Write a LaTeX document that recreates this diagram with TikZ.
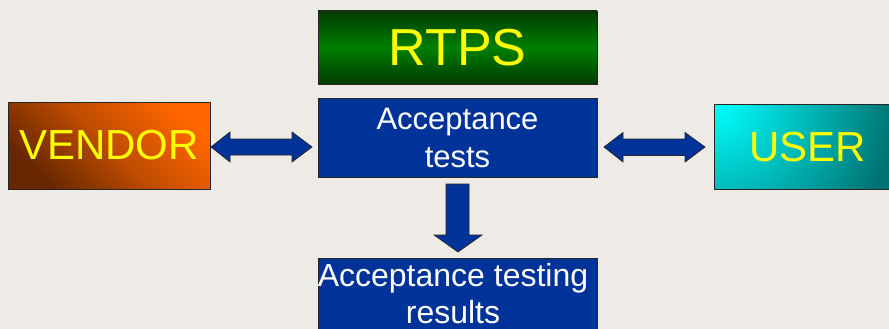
\documentclass[tikz,border=0pt]{standalone}
\usepackage{fontspec}
\setmainfont{Liberation Sans}
\usetikzlibrary{calc}
\definecolor{bg}{HTML}{EEEBE6}
\definecolor{accblue}{HTML}{003399}
\definecolor{txtyellow}{HTML}{FFFF00}
\definecolor{gdark}{HTML}{003A00}
\definecolor{gmid}{HTML}{008000}
\definecolor{vorange}{HTML}{FF6600}
\definecolor{vmid}{HTML}{BE4C00}
\definecolor{vbrown}{HTML}{662600}
\definecolor{ucyan}{HTML}{00FFFF}
\definecolor{uteal}{HTML}{007474}
\tikzset{
  boxbase/.style={draw=black!85, line width=0.8pt, rectangle, inner sep=0pt, align=center},
  bluebox/.style={boxbase, fill=accblue, text=white, font=\fontsize{31}{38}\selectfont},
  blockarrow/.style={fill=accblue, draw=black!85, line width=0.7pt, line join=miter},
}
\begin{document}
\begin{tikzpicture}[x=1pt,y=-1pt]
\fill[bg] (0,0) rectangle (889,329);
\useasboundingbox (0,0) rectangle (889,329);
% RTPS
\node[boxbase, top color=gdark, bottom color=gdark, middle color=gmid,
      minimum width=279pt, minimum height=73pt, text=txtyellow,
      font=\fontsize{52}{60}\selectfont] (rtps) at (457.5,47.5) {RTPS};
% Acceptance tests
\node[bluebox, minimum width=279pt, minimum height=79pt] (acc) at (457.5,138) {Acceptance\\tests};
% VENDOR
\node[boxbase, bottom color=vbrown, top color=vorange, middle color=vmid, shading angle=-45,
      minimum width=202pt, minimum height=87pt, text=txtyellow,
      font=\fontsize{42}{50}\selectfont] (vendor) at (109,145.5) {VENDOR};
% USER
\node[boxbase, fill=uteal, minimum width=180pt, minimum height=85pt,
      path picture={\shade[inner color=ucyan, outer color=uteal]
        ($(path picture bounding box.north west)+(-175pt,-175pt)$) rectangle
        ($(path picture bounding box.north west)+(175pt,175pt)$);}] (user) at (804,146.5) {};
\node[text=txtyellow, font=\fontsize{42}{50}\selectfont, inner sep=0pt] (usertxt) at (807.5,147.5) {USER};
% Results
\node[bluebox, minimum width=279pt, minimum height=90pt, anchor=north, text depth=0pt] (res) at (457.5,258) {};
\node[text=white, font=\fontsize{32}{37}\selectfont, align=center, inner sep=0pt, anchor=north] (restxt) at (453,263) {Acceptance testing\\results};
% Left double arrow
\draw[blockarrow] (211,147) -- (230,132) -- (230,139) -- (292,139) -- (292,132) -- (312,147)
  -- (292,162) -- (292,155) -- (230,155) -- (230,162) -- cycle;
% Right double arrow
\draw[blockarrow] (604,147) -- (623,132.5) -- (623,139) -- (685,139) -- (685,132.5) -- (705,147)
  -- (685,162) -- (685,155.5) -- (623,155.5) -- (623,162) -- cycle;
% Down arrow
\draw[blockarrow] (446,184) -- (469,184) -- (469,235) -- (482,235) -- (458,252) -- (434,235) -- (446,235) -- cycle;
\end{tikzpicture}
\end{document}
